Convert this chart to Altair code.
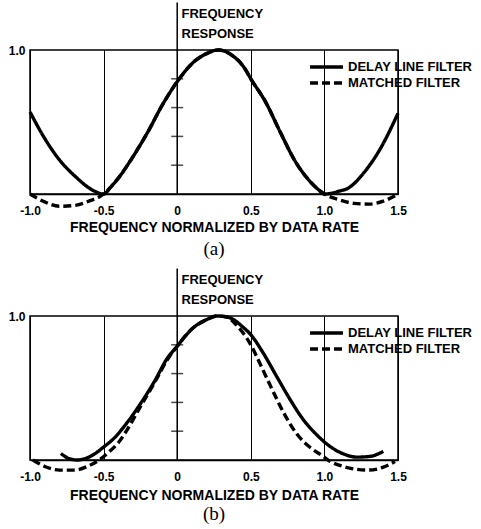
import altair as alt
import pandas as pd

DELAY = "DELAY LINE FILTER"
MATCHED = "MATCHED FILTER"
SERIES = [DELAY, MATCHED]

X_TICKS = [-1.0, -0.5, 0.0, 0.5, 1.0, 1.5]
Y_TICKS = [0.2, 0.4, 0.6, 0.8]
Y_TOP = [1.0]
Y_LABEL = ["FREQUENCY", "RESPONSE"]
X_TITLE = "FREQUENCY NORMALIZED BY DATA RATE"
CAPTIONS = ["(a)", "(b)"]

# ---- panel (a) ----
a_delay_f = [-1.0, -0.92, -0.81, -0.69, -0.58, -0.5, -0.45, -0.4, -0.3, -0.2, -0.1,
             0.0, 0.1, 0.2, 0.28, 0.37, 0.46, 0.5, 0.6, 0.7, 0.8, 0.9, 0.96, 1.0,
             1.05, 1.1, 1.16, 1.27, 1.38, 1.5]
a_delay_v = [0.57, 0.42, 0.25, 0.12, 0.03, 0.0, 0.05, 0.11, 0.26, 0.43, 0.62,
             0.78, 0.905, 0.975, 1.0, 0.965, 0.87, 0.80, 0.64, 0.43, 0.23, 0.09, 0.03, 0.0,
             0.005, 0.02, 0.04, 0.15, 0.315, 0.56]

a_match_f = [-1.0, -0.9, -0.8, -0.7, -0.6, -0.5, -0.45, -0.4, -0.3, -0.2, -0.1,
             0.0, 0.1, 0.2, 0.28, 0.37, 0.46, 0.5, 0.6, 0.7, 0.8, 0.9, 0.96, 1.0,
             1.1, 1.2, 1.3, 1.4, 1.5]
a_match_v = [0.0, -0.055, -0.085, -0.08, -0.05, 0.0, 0.05, 0.11, 0.26, 0.43, 0.62,
             0.78, 0.905, 0.975, 1.0, 0.965, 0.87, 0.80, 0.64, 0.43, 0.23, 0.09, 0.03, 0.0,
             -0.04, -0.065, -0.07, -0.05, 0.0]

# ---- panel (b) ----
b_delay_f = [-0.79, -0.74, -0.68, -0.6, -0.55, -0.5, -0.43, -0.34, -0.25, -0.155, -0.065,
             0.0, 0.05, 0.1, 0.2, 0.27, 0.35, 0.45, 0.5, 0.586, 0.676, 0.767, 0.857,
             0.948, 1.04, 1.13, 1.22, 1.31, 1.40]
b_delay_v = [0.045, 0.012, 0.0, 0.02, 0.05, 0.09, 0.15, 0.26, 0.39, 0.545, 0.71,
             0.79, 0.855, 0.91, 0.975, 1.0, 0.99, 0.92, 0.87, 0.74, 0.58, 0.42, 0.28,
             0.175, 0.093, 0.042, 0.02, 0.025, 0.06]

b_match_f = [-0.98, -0.9, -0.8, -0.7, -0.6, -0.53, -0.47, -0.4, -0.34, -0.25, -0.155,
             -0.065, 0.0, 0.1, 0.2, 0.27, 0.33, 0.4, 0.5, 0.568, 0.654, 0.733, 0.813,
             0.9, 0.985, 1.04, 1.13, 1.22, 1.3, 1.4, 1.48]
b_match_v = [0.0, -0.045, -0.07, -0.07, -0.04, 0.0, 0.05, 0.12, 0.21, 0.37, 0.535,
             0.70, 0.79, 0.91, 0.975, 1.0, 0.995, 0.94, 0.80, 0.657, 0.47, 0.31, 0.18,
             0.09, 0.03, -0.01, -0.045, -0.065, -0.07, -0.05, -0.01]

FONT = "Liberation Sans"
W, H = 368, 144


def make_df(df_, dv_, mf_, mv_):
    return pd.DataFrame({
        "f": df_ + mf_,
        "v": dv_ + mv_,
        "series": [DELAY] * len(df_) + [MATCHED] * len(mf_),
    })


def panel(df, caption, label_pad, title_pad, cap_off):
    xs = alt.Scale(domain=[X_TICKS[0], X_TICKS[-1]], nice=False, zero=False)
    ys = alt.Scale(domain=[0.0, 1.0], nice=False, zero=False)
    x_axis = alt.Axis(
        values=X_TICKS,
        labelExpr="datum.value == 0 ? '0' : (datum.value < 0 ? '-' + format(-datum.value, '.1f') : format(datum.value, '.1f'))",
        grid=True, gridColor="black", gridWidth=1, gridOpacity=1,
        ticks=False, domain=True, domainColor="black", domainWidth=1.5,
        labelFont=FONT, labelFontWeight="bold", labelFontSize=12, labelColor="black",
        labelPadding=label_pad, labelFlush=False,
        title=X_TITLE, titleFont=FONT, titleFontWeight="bold", titleFontSize=14,
        titleColor="black", titlePadding=title_pad,
    )
    y_axis = alt.Axis(
        values=Y_TOP, labelExpr="'1.0'", ticks=False, domain=False, grid=False,
        labelFont=FONT, labelFontWeight="bold", labelFontSize=12, labelColor="black",
        labelPadding=5,
        title=Y_LABEL, titleAngle=0, titleAlign="left", titleBaseline="top",
        titleX=151, titleY=-43, titleLineHeight=20,
        titleFont=FONT, titleFontWeight="bold", titleFontSize=13, titleColor="black",
    )
    x_enc = alt.X("f:Q", scale=xs, axis=x_axis)
    y_enc = alt.Y("v:Q", scale=ys, axis=y_axis)

    lines = alt.Chart(df).mark_line(
        strokeWidth=3.4, color="black", interpolate="monotone"
    ).encode(
        x=x_enc, y=y_enc,
        strokeDash=alt.StrokeDash(
            "series:N",
            scale=alt.Scale(domain=SERIES, range=[[1, 0], [8, 4]]),
            legend=None,
        ),
    )

    vaxis = alt.Chart(pd.DataFrame({"f": [0.0], "v": [0.0], "v2": [1.33]})).mark_rule(
        color="black", strokeWidth=1.5
    ).encode(x=x_enc, y=y_enc, y2="v2:Q")

    ticks = alt.Chart(pd.DataFrame({"f": [0.0] * len(Y_TICKS), "v": Y_TICKS})).mark_tick(
        orient="horizontal", size=12, thickness=1.5, color="black"
    ).encode(x=x_enc, y=y_enc)

    legend_layers = []
    dashes = [[1, 0], [8, 4]]
    for i, name in enumerate(SERIES):
        yy = 17 + 16 * i
        legend_layers.append(
            alt.Chart(pd.DataFrame({"series": [name]})).mark_rule(
                color="black", strokeWidth=3.4, strokeDash=dashes[i]
            ).encode(x=alt.value(280), x2=alt.value(313), y=alt.value(yy))
        )
        legend_layers.append(
            alt.Chart(pd.DataFrame({"series": [name]})).mark_text(
                align="left", baseline="middle", font=FONT, fontWeight="bold",
                fontSize=13, color="black"
            ).encode(x=alt.value(318), y=alt.value(yy), text="series:N")
        )

    return alt.layer(lines, vaxis, ticks, *legend_layers).properties(
        width=W, height=H,
        title=alt.TitleParams(
            caption, orient="bottom", font="Liberation Serif", fontSize=19,
            fontWeight="normal", color="black", anchor="middle", frame="group", offset=cap_off,
        ),
    )


pa = panel(make_df(a_delay_f, a_delay_v, a_match_f, a_match_v), CAPTIONS[0], 11, 4, 6)
pb = panel(make_df(b_delay_f, b_delay_v, b_match_f, b_match_v), CAPTIONS[1], 11, 6, 3)

chart = alt.vconcat(pa, pb, spacing=6).properties(
    padding={"left": 7, "top": 0, "right": 4, "bottom": 0},
    background="white",
).configure_view(stroke="black", strokeWidth=1.5)

chart.save("out.html", embed_options={"renderer": "svg", "actions": False})
